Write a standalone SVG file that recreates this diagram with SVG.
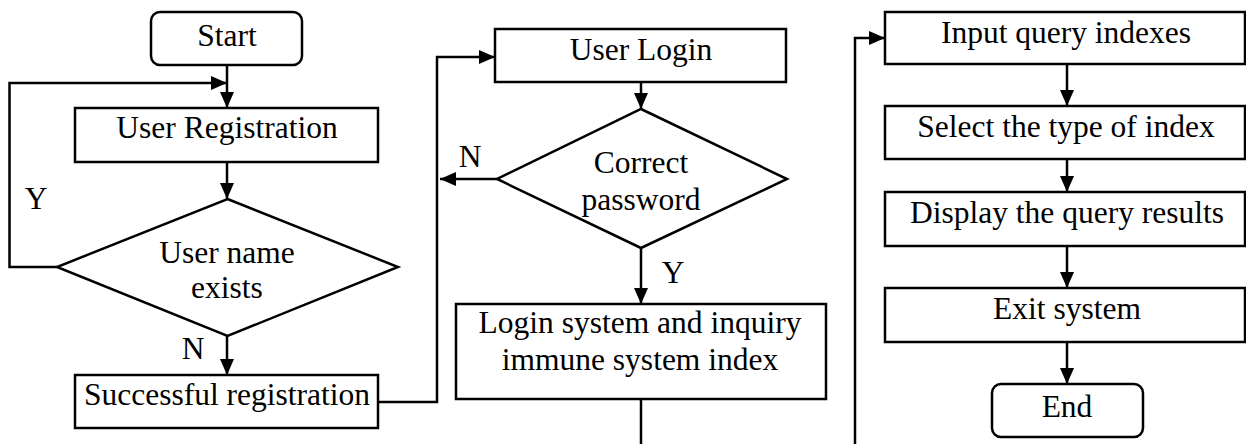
<svg xmlns="http://www.w3.org/2000/svg" width="1246" height="444" viewBox="0 0 1246 444">
<style>
.box{fill:#fff;stroke:#000;stroke-width:2.5}
.ln{fill:none;stroke:#000;stroke-width:2.5}
.t{font-family:"Liberation Serif","Times New Roman",serif;font-size:31.5px;fill:#000;text-anchor:middle}
</style>
<defs>
<marker id="ah" markerUnits="userSpaceOnUse" markerWidth="17" markerHeight="14" refX="16" refY="7" orient="auto">
<path d="M0,0 L16,7 L0,14 z" fill="#000"/>
</marker>
</defs>
<rect width="1246" height="444" fill="#fff"/>
<g id="connectors">
<path class="ln" d="M227,65 V108" marker-end="url(#ah)"/>
<path class="ln" d="M57,267 H9.5 V83 H227" marker-end="url(#ah)"/>
<path class="ln" d="M227,162 V199" marker-end="url(#ah)"/>
<path class="ln" d="M227,336 V375" marker-end="url(#ah)"/>
<path class="ln" d="M378,402 H437 V57 H495" marker-end="url(#ah)"/>
<path class="ln" d="M641,82 V109" marker-end="url(#ah)"/>
<path class="ln" d="M497,179 H440" marker-end="url(#ah)"/>
<path class="ln" d="M641,248 V304" marker-end="url(#ah)"/>
<path class="ln" d="M641,399 V444"/>
<path class="ln" d="M855,444 V38 H885" marker-end="url(#ah)"/>
<path class="ln" d="M1067,64 V106" marker-end="url(#ah)"/>
<path class="ln" d="M1067,159 V192" marker-end="url(#ah)"/>
<path class="ln" d="M1067,246 V288" marker-end="url(#ah)"/>
<path class="ln" d="M1067,342 V384" marker-end="url(#ah)"/>
<text class="t" x="36" y="209">Y</text>
<text class="t" x="193" y="359">N</text>
<text class="t" x="470" y="167">N</text>
<text class="t" x="673" y="283">Y</text>
</g>
<g id="start">
<rect class="box" x="151" y="12" width="151" height="53" rx="9"/>
<text class="t" x="227" y="46">Start</text>
</g>
<g id="user-registration">
<rect class="box" x="75" y="108" width="303" height="54"/>
<text class="t" x="227" y="138">User Registration</text>
</g>
<g id="user-name-exists">
<polygon class="box" points="227.5,199 398,267 227.5,336 57,267"/>
<text class="t" x="227" y="263">User name</text>
<text class="t" x="227" y="298">exists</text>
</g>
<g id="successful-registration">
<rect class="box" x="75" y="375" width="303" height="53"/>
<text class="t" x="227" y="405">Successful registration</text>
</g>
<g id="user-login">
<rect class="box" x="495" y="29" width="291" height="53"/>
<text class="t" x="641" y="60">User Login</text>
</g>
<g id="correct-password">
<polygon class="box" points="641,109 787,179 641,248 497,179"/>
<text class="t" x="641" y="173">Correct</text>
<text class="t" x="641" y="210">password</text>
</g>
<g id="login-system">
<rect class="box" x="456" y="304" width="370" height="95"/>
<text class="t" x="640" y="333">Login system and inquiry</text>
<text class="t" x="640" y="370">immune system index</text>
</g>
<g id="input-query">
<rect class="box" x="885" y="12" width="360" height="52"/>
<text class="t" x="1066" y="43">Input query indexes</text>
</g>
<g id="select-type">
<rect class="box" x="885" y="106" width="360" height="53"/>
<text class="t" x="1066" y="137">Select the type of index</text>
</g>
<g id="display-results">
<rect class="box" x="885" y="192" width="360" height="54"/>
<text class="t" x="1067" y="223">Display the query results</text>
</g>
<g id="exit-system">
<rect class="box" x="885" y="288" width="360" height="54"/>
<text class="t" x="1067" y="319">Exit system</text>
</g>
<g id="end">
<rect class="box" x="992" y="384" width="151" height="53" rx="9"/>
<text class="t" x="1067" y="417">End</text>
</g>
</svg>
